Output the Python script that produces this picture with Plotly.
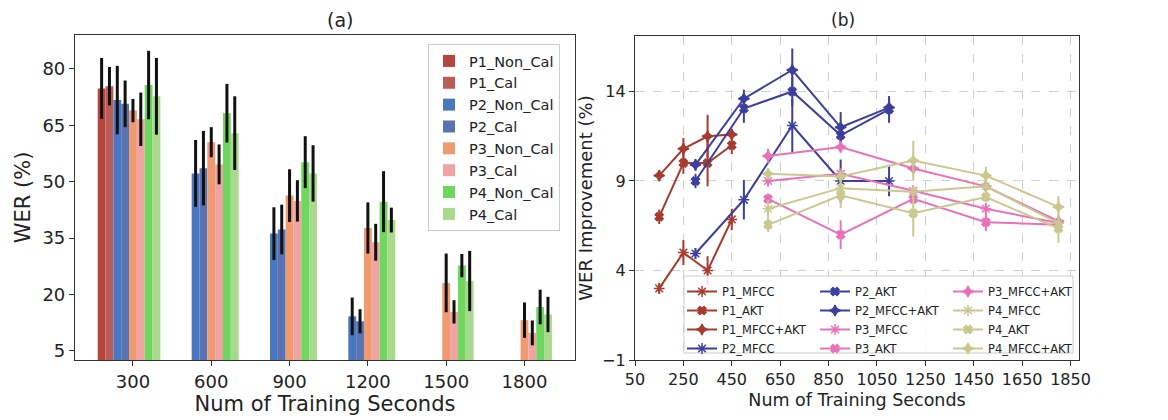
import plotly.graph_objects as go

# ---------------- data: panel (a) ----------------
groups = ["300", "600", "900", "1200", "1500", "1800"]
bar_names = ["P1_Non_Cal", "P1_Cal", "P2_Non_Cal", "P2_Cal",
             "P3_Non_Cal", "P3_Cal", "P4_Non_Cal", "P4_Cal"]
bar_colors = ["#b8453d", "#b95d56", "#4a78c0", "#5872b2",
              "#f09a72", "#efa3a3", "#6fd75f", "#a9d98c"]
# WER values per series for each group (None = no bar)
wer = {
    "P1_Non_Cal": [74.8, None, None, None, None, None],
    "P1_Cal":     [75.4, None, None, None, None, None],
    "P2_Non_Cal": [71.7, 52.2, 36.2, 14.2, None, None],
    "P2_Cal":     [70.7, 53.6, 37.3, 12.9, None, None],
    "P3_Non_Cal": [68.9, 60.5, 46.3, 37.7, 23.1, 13.2],
    "P3_Cal":     [66.6, 54.6, 44.9, 33.9, 15.4, 9.8],
    "P4_Non_Cal": [75.7, 68.2, 55.2, 44.7, 27.7, 16.7],
    "P4_Cal":     [72.7, 62.9, 52.2, 39.8, 23.6, 14.7],
}
wer_err = {
    "P1_Non_Cal": [8.1, 0, 0, 0, 0, 0],
    "P1_Cal":     [5.1, 0, 0, 0, 0, 0],
    "P2_Non_Cal": [9.1, 8.9, 7.0, 5.0, 0, 0],
    "P2_Cal":     [6.2, 9.9, 6.6, 3.2, 0, 0],
    "P3_Non_Cal": [3.1, 4.0, 7.0, 6.8, 7.8, 4.7],
    "P3_Cal":     [7.1, 5.3, 5.5, 4.9, 3.1, 3.3],
    "P4_Non_Cal": [9.1, 7.8, 6.9, 8.1, 3.1, 4.6],
    "P4_Cal":     [10.2, 9.8, 7.5, 3.3, 8.0, 4.7],
}
a_yticks = [5, 20, 35, 50, 65, 80]

# ---------------- data: panel (b) ----------------
x_p1 = [150, 250, 350, 450]
x_p2 = [300, 500, 700, 900, 1100]
x_p34 = [600, 900, 1200, 1500, 1800]
lines_b = [
    # name, x, y, err, color, marker
    ("P1_MFCC",     x_p1, [3.0, 5.0, 4.0, 6.85], [0.3, 0.7, 0.8, 0.6], "#a63b30", "asterisk-open"),
    ("P1_AKT",      x_p1, [7.0, 10.0, 10.0, 11.0], [0.4, 0.6, 1.3, 0.5], "#a63b30", "x"),
    ("P1_MFCC+AKT", x_p1, [9.3, 10.8, 11.5, 11.6], [0.3, 0.6, 1.2, 0.3], "#a63b30", "star-diamond"),
    ("P2_MFCC",     x_p2, [4.95, 7.95, 12.1, 9.0, 9.0], [0.3, 1.1, 1.5, 1.2, 0.85], "#3d3f9e", "asterisk-open"),
    ("P2_AKT",      x_p2, [9.0, 13.05, 14.0, 11.55, 13.0], [0.4, 0.8, 0.8, 0.5, 0.75], "#3d3f9e", "x"),
    ("P2_MFCC+AKT", x_p2, [9.9, 13.6, 15.2, 12.0, 13.1], [0.3, 0.5, 1.2, 0.85, 0.5], "#3d3f9e", "star-diamond"),
    ("P3_MFCC",     x_p34, [9.0, 9.4, 8.45, 7.45, 6.65], [0.3, 0.3, 0.3, 0.3, 0.3], "#e872b8", "asterisk-open"),
    ("P3_AKT",      x_p34, [8.0, 6.0, 8.0, 6.7, 6.55], [0.3, 0.8, 0.3, 0.5, 0.3], "#e872b8", "x"),
    ("P3_MFCC+AKT", x_p34, [10.4, 10.9, 9.7, 8.7, 6.75], [0.4, 0.3, 0.3, 0.3, 0.3], "#e872b8", "star-diamond"),
    ("P4_MFCC",     x_p34, [7.45, 8.6, 8.4, 8.7, 6.65], [0.5, 0.4, 0.3, 0.3, 0.3], "#c9c98f", "asterisk-open"),
    ("P4_AKT",      x_p34, [6.55, 8.2, 7.2, 8.1, 6.35], [0.4, 0.7, 1.3, 0.3, 0.8], "#c9c98f", "x"),
    ("P4_MFCC+AKT", x_p34, [9.4, 9.25, 10.15, 9.3, 7.55], [0.3, 0.3, 1.1, 0.5, 0.6], "#c9c98f", "star-diamond"),
]
b_xticks = [50, 250, 450, 650, 850, 1050, 1250, 1450, 1650, 1850]
b_yticks = [-1, 4, 9, 14]

FONT = "DejaVu Sans"
fig = go.Figure()

# ---- panel (a) bars ----
bar_w = 0.1
for i, name in enumerate(bar_names):
    xs, ys, es = [], [], []
    for g in range(len(groups)):
        v = wer[name][g]
        if v is not None:
            xs.append(g)
            ys.append(v)
            es.append(wer_err[name][g])
    fig.add_trace(go.Bar(
        x=xs, y=ys, name=name, width=bar_w, offset=(i - 4) * bar_w - bar_w / 2,
        marker=dict(color=bar_colors[i], line=dict(width=0)),
        error_y=dict(type="data", array=es, color="#111111", thickness=3, width=0),
        xaxis="x", yaxis="y", legend="legend",
    ))

# ---- panel (b) lines ----
leg_for = ["legend2"] * 4 + ["legend3"] * 4 + ["legend4"] * 4
size_for = {"asterisk-open": 9, "x": 7, "star-diamond": 8}
for k, (name, xs, ys, es, col, sym) in enumerate(lines_b):
    fig.add_trace(go.Scatter(
        x=xs, y=ys, name=name, mode="lines+markers",
        line=dict(color=col, width=2),
        marker=dict(symbol=sym, size=size_for[sym], color=col, line=dict(color=col, width=1.5)),
        error_y=dict(type="data", array=es, color=col, thickness=2, width=0),
        xaxis="x2", yaxis="y2", legend=leg_for[k],
    ))

W, H = 1168, 420
def px(x):
    return x / W
def py(y):
    return 1 - y / H

ax_common = dict(showline=True, linecolor="#333333", linewidth=1.2, mirror=True,
                 ticks="outside", ticklen=5, tickcolor="#333333", zeroline=False,
                 automargin=False)

leg_common = dict(bgcolor="rgba(0,0,0,0)", borderwidth=0, orientation="v",
                  xanchor="left", yanchor="top", tracegroupgap=0,
                  font=dict(family=FONT, size=11.5, color="#222222"))

fig.update_layout(
    width=W, height=H, autosize=False,
    margin=dict(l=0, r=0, t=0, b=0, autoexpand=False),
    paper_bgcolor="white", plot_bgcolor="white",
    font=dict(family=FONT, color="#222222"),
    barmode="overlay",
    xaxis=dict(domain=[px(75), px(575)], range=[-0.74, 5.645],
               tickvals=list(range(len(groups))), ticktext=groups,
               tickfont=dict(size=18), showgrid=False,
               title=dict(text="Num of Training Seconds", font=dict(size=21), standoff=4),
               anchor="y", **ax_common),
    yaxis=dict(domain=[py(360), py(35)], range=[2.6, 89], tickvals=a_yticks,
               tickfont=dict(size=18), showgrid=False,
               title=dict(text="WER (%)", font=dict(size=21), standoff=6),
               anchor="x", **ax_common),
    xaxis2=dict(domain=[px(635), px(1079)], range=[50, 1885], tickvals=b_xticks,
                tickfont=dict(size=16), showgrid=True, gridcolor="#d0d0d0",
                griddash="dash", gridwidth=1,
                title=dict(text="Num of Training Seconds", font=dict(size=17.5), standoff=5),
                anchor="y2", **ax_common),
    yaxis2=dict(domain=[py(360), py(36)], range=[-1, 17.1], tickvals=b_yticks,
                tickfont=dict(size=16), showgrid=True, gridcolor="#d0d0d0",
                griddash="dash", gridwidth=1,
                title=dict(text="WER Improvement (%)", font=dict(size=18), standoff=4),
                anchor="x2", **ax_common),
    legend=dict(x=px(428), y=py(44), xanchor="left", yanchor="top",
                bgcolor="white", bordercolor="#cccccc", borderwidth=1,
                font=dict(family=FONT, size=14.5, color="#222222"), tracegroupgap=0),
    legend2=dict(x=px(682), y=py(277), **leg_common),
    legend3=dict(x=px(815), y=py(277), **leg_common),
    legend4=dict(x=px(948), y=py(277), **leg_common),
    annotations=[
        dict(text="(a)", x=0.5 * (px(75) + px(575)), y=py(20), xref="paper", yref="paper",
             yanchor="middle", showarrow=False, font=dict(family=FONT, size=19, color="#222222")),
        dict(text="(b)", x=0.5 * (px(635) + px(1079)), y=py(20), xref="paper", yref="paper",
             yanchor="middle", showarrow=False, font=dict(family=FONT, size=17, color="#222222")),
    ],
    shapes=[
        dict(type="rect", xref="paper", yref="paper", x0=px(684), x1=px(1073),
             y0=py(353), y1=py(276), line=dict(color="#cccccc", width=1),
             fillcolor="rgba(255,255,255,0.85)", layer="above"),
    ],
)

fig.write_html("out.html", config={"displayModeBar": False},
               post_script="document.body.style.margin='0';document.body.style.overflow='hidden';")
